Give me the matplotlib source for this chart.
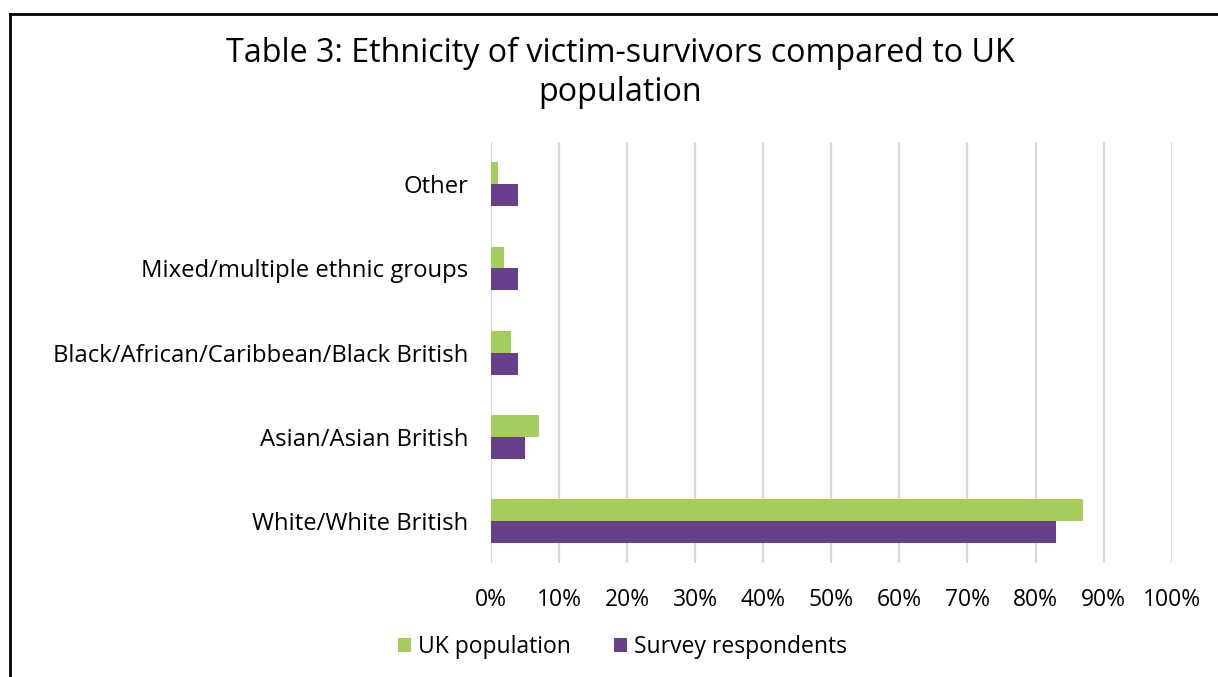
import matplotlib
matplotlib.use("Agg")
import matplotlib.pyplot as plt
import numpy as np
from matplotlib.lines import Line2D

categories = ["White/White British", "Asian/Asian British",
              "Black/African/Caribbean/Black British",
              "Mixed/multiple ethnic groups", "Other"]
uk_population = [87, 7, 3, 2, 1]
survey_respondents = [83, 5, 4, 4, 4]
xticks = list(range(0, 101, 10))
xtick_labels = [f"{t}%" for t in xticks]

plt.rcParams['font.family'] = ['Open Sans', 'DejaVu Sans']

fig = plt.figure(figsize=(12.18, 6.77), dpi=100)
ax = fig.add_axes([0.403, 0.168, 0.559, 0.622])

y = np.arange(len(categories))
h = 0.26
green = "#A5CD5D"
purple = "#683F8A"
ax.barh(y + h / 2, uk_population, height=h, color=green, label="UK population", zorder=3)
ax.barh(y - h / 2, survey_respondents, height=h, color=purple, label="Survey respondents", zorder=3)

ax.set_xlim(0, 100)
ax.set_ylim(-0.5, len(categories) - 0.5)
ax.set_xticks(xticks)
ax.set_xticklabels(xtick_labels, fontsize=16.5)
ax.set_yticks(y)
ax.set_yticklabels(categories, fontsize=17.2)
ax.tick_params(axis='both', length=0, colors="#000000")
ax.tick_params(axis='x', pad=18)
ax.tick_params(axis='y', pad=16)
ax.grid(axis='x', color="#D9D9D9", linewidth=1.6, zorder=0)
for s in ax.spines.values():
    s.set_visible(False)

fig.text(0.509, 0.892, "Table 3: Ethnicity of victim-survivors compared to UK\npopulation",
         ha="center", va="center", fontsize=23.2, linespacing=1.22)

handles, labels = ax.get_legend_handles_labels()
fig.legend(handles, labels, loc="center", bbox_to_anchor=(0.511, 0.044), ncol=2,
           frameon=False, fontsize=16.5, handlelength=0.55, handleheight=0.55,
           handletextpad=0.3, columnspacing=1.9)

fig.add_artist(Line2D([9.5 / 1218, 1.0], [1 - 13.5 / 677, 1 - 13.5 / 677],
                      transform=fig.transFigure, color="black", linewidth=2))
fig.add_artist(Line2D([9.5 / 1218, 9.5 / 1218], [0, 1 - 13.5 / 677],
                      transform=fig.transFigure, color="black", linewidth=2))

fig.savefig("out.png", dpi=100)
